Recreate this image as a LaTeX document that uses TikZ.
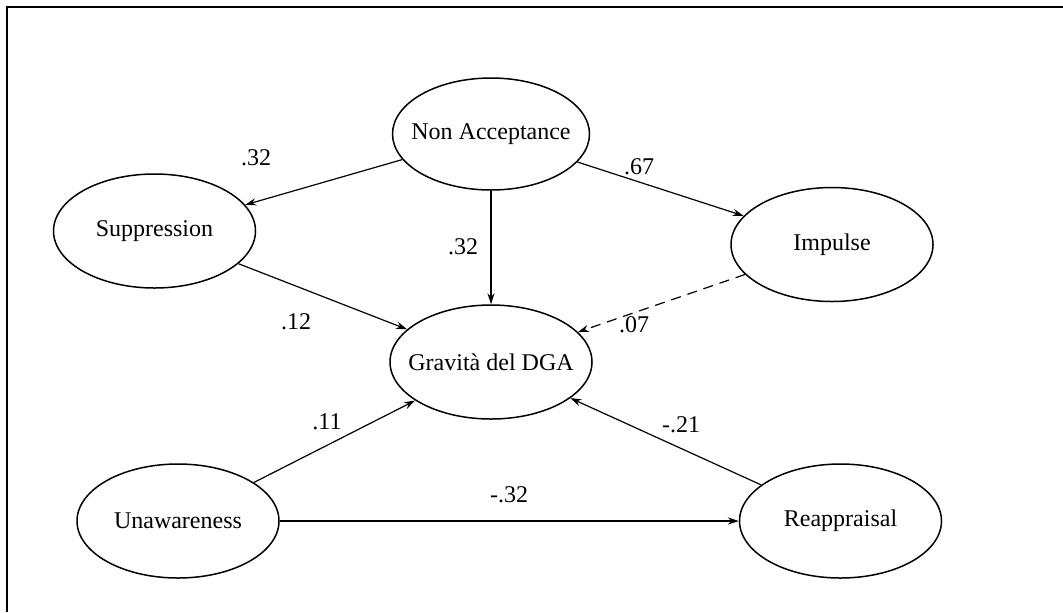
\documentclass[tikz,border=0pt]{standalone}
\usepackage{fontspec}
\setmainfont{Liberation Serif}
\usetikzlibrary{arrows.meta,shapes.geometric}

\newcommand{\lvname}[1]{\makebox[0pt]{#1}}

\begin{document}
\begin{tikzpicture}[x=0.5pt,y=-0.5pt,
  latent/.style={ellipse, draw, line width=0.75pt, minimum width=101pt,
    minimum height=57pt, inner sep=0pt, font=\fontsize{12}{14}\selectfont},
  path/.style={line width=0.6pt, -{Stealth[length=5.5pt,width=3.6pt]}},
  coef/.style={font=\fontsize{12}{14}\selectfont, inner sep=0pt}]
\useasboundingbox (0,0) rectangle (1063,612);

% frame
\draw[line width=1pt] (7,612) -- (7,7) -- (1063,7);

% latent variables
\node[latent, minimum width=98.5pt, minimum height=56pt] (na) at (491,134) {\lvname{Non Acceptance}};
\node[latent] (sup)  at (154.5,231) {\lvname{Suppression}};
\node[latent] (imp)  at (832,244.5) {\lvname{Impulse}};
\node[latent] (dga)  at (491,362)   {\lvname{Gravità del DGA}};
\node[latent] (una)  at (178,521)   {\lvname{Unawareness}};
\node[latent] (rea)  at (840.5,521) {\lvname{Reappraisal}};

% structural paths
\draw[path] (na) -- (sup);
\draw[path] (na) -- (imp);
\draw[path] (na) -- (dga);
\draw[path] (sup) -- (dga);
\draw[path, dashed, dash pattern=on 5pt off 3.5pt] (imp) -- (dga);
\draw[path] (una) -- (dga);
\draw[path] (rea) -- (dga);
\draw[path] (una) -- (rea);

% path coefficients
\node[coef] (c1) at (256,158) {.32};
\node[coef] (c2) at (639,167) {.67};
\node[coef] (c3) at (463,247) {.32};
\node[coef] (c4) at (296,322) {.12};
\node[coef] (c5) at (634,325) {.07};
\node[coef] (c6) at (327,422) {.11};
\node[coef] (c7) at (681,425) {-.21};
\node[coef] (c8) at (509,495) {-.32};
\end{tikzpicture}
\end{document}
